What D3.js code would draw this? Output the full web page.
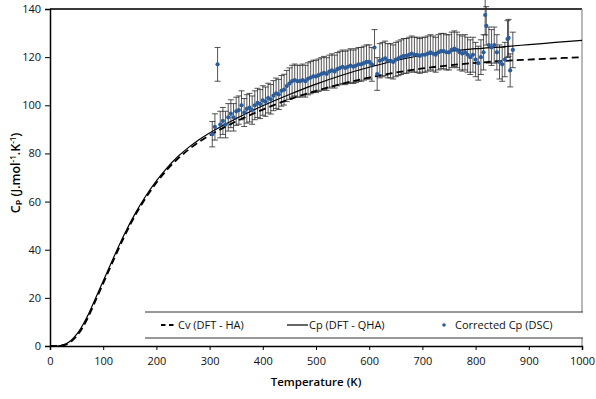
<!DOCTYPE html>
<html>
<head>
<meta charset="utf-8">
<script src="https://cdn.jsdelivr.net/npm/d3@7"></script>
<style>
  body { margin: 0; background: #fff; }
  svg { font-family: "Open Sans", "DejaVu Sans", sans-serif; }
</style>
</head>
<body>
<svg id="chart" width="596" height="399"></svg>
<script>
// model curves (K, J/mol/K)
const modelT  = [0, 15, 20, 30, 40, 50, 60, 70, 80, 90, 100, 120, 140, 160, 180, 200, 220, 240, 260, 280, 300, 350, 400, 450, 500, 550, 600, 650, 700, 750, 800, 850, 900, 950, 1000];
const cpQHA   = [0, 0, 0.2, 0.9, 2.4, 4.8, 8.1, 12.2, 17, 22, 27, 37, 46.5, 55, 62.3, 68.6, 74, 78.6, 82.4, 85.7, 88.5, 94.5, 99.8, 104.5, 108.8, 112.6, 115.8, 118.6, 120.8, 122.4, 123.5, 124.3, 125.2, 126.1, 127];
const cvHA    = [0, 0, 0.1, 0.6, 1.9, 4.1, 7.2, 11.2, 16, 21, 26, 36, 45.6, 54.2, 61.5, 67.8, 73.2, 77.7, 81.5, 84.7, 87.5, 93.3, 98.2, 102.5, 106, 109, 111.5, 113.6, 115.3, 116.6, 117.6, 118.4, 119, 119.5, 120];

// corrected DSC data
const dscT  = [305, 310, 315, 320, 325, 330, 335, 340, 345, 350, 355, 360, 365, 370, 375, 380, 385, 390, 395, 400,
               405, 410, 415, 420, 425, 430, 435, 440, 445, 450, 455, 460, 465, 470, 475, 480, 485, 490, 495, 500,
               505, 510, 515, 520, 525, 530, 535, 540, 545, 550, 555, 560, 565, 570, 575, 580, 585, 590, 595, 600,
               605, 610, 615, 620, 625, 630, 635, 640, 645, 650, 655, 660, 665, 670, 675, 680, 685, 690, 695, 700,
               705, 710, 715, 720, 725, 730, 735, 740, 745, 750, 755, 760, 765, 770, 775, 780, 785, 790, 795, 800,
               805, 810, 815, 818, 820, 825, 830, 835, 840, 845, 850, 855, 860, 862, 865, 870];
const dscCp = [88, 91, 117, 92, 93.5, 92, 95, 96.5, 95, 97.5, 98, 100, 97, 98.5, 99, 98, 100, 101, 100.5, 102,
               101.5, 103, 102.5, 104, 105, 104.5, 106, 106.5, 108, 109, 110, 110.5, 110, 110, 110.5, 110, 111, 111.5, 112, 112,
               112.5, 113, 113.5, 113, 114, 114.5, 114, 115, 115.5, 116, 115.5, 116, 116.5, 116, 116.5, 117, 117, 117.5, 118, 118,
               117, 124, 113, 118.5, 119, 119.5, 118.5, 118.5, 118, 119, 119.5, 120, 120.5, 120.5, 121, 121.5, 121, 121, 120.5, 121,
               121, 121.5, 122, 121.5, 121, 122, 122.5, 122.5, 122, 122, 123, 123.5, 123, 122, 121.5, 122, 121, 120, 121, 119,
               117.5, 120, 122, 137.5, 133, 125, 124, 125, 122, 118, 117, 119, 127.5, 128, 114.5, 123];
const dscErrPct = 0.06;

const xTicks = [0, 100, 200, 300, 400, 500, 600, 700, 800, 900, 1000];
const yTicks = [0, 20, 40, 60, 80, 100, 120, 140];

const legendItems = [
  { label: "Cv (DFT - HA)", kind: "dash" },
  { label: "Cp (DFT - QHA)", kind: "solid" },
  { label: "Corrected Cp (DSC)", kind: "dot" }
];

const margin = { top: 9, right: 14, bottom: 53, left: 50 };
const W = 596, H = 399;
const svg = d3.select("#chart");

const x = d3.scaleLinear().domain([0, 1000]).range([margin.left, W - margin.right]);
const y = d3.scaleLinear().domain([0, 140]).range([H - margin.bottom, margin.top]);

const dotColor = "#2b5c9c";

// frame top + right
svg.append("line")
  .attr("x1", x(0)).attr("x2", x(1000)).attr("y1", y(140)).attr("y2", y(140))
  .attr("stroke", "#3a3a3a").attr("stroke-width", 2);
svg.append("line")
  .attr("x1", x(1000)).attr("x2", x(1000)).attr("y1", y(140)).attr("y2", y(0))
  .attr("stroke", "#8a8a8a").attr("stroke-width", 1.2);

// error bars
const err = svg.append("g").attr("stroke", "#2a2a2a").attr("stroke-width", 0.8);
dscT.forEach((t, i) => {
  const v = dscCp[i], e = v * dscErrPct;
  const cx = x(t);
  err.append("line").attr("x1", cx).attr("x2", cx).attr("y1", y(v - e)).attr("y2", y(v + e));
  err.append("line").attr("x1", cx - 3).attr("x2", cx + 3).attr("y1", y(v - e)).attr("y2", y(v - e));
  err.append("line").attr("x1", cx - 3).attr("x2", cx + 3).attr("y1", y(v + e)).attr("y2", y(v + e));
});

// model curves
const lineFor = arr => d3.line()
  .x((d, i) => x(modelT[i]))
  .y((d, i) => y(arr[i]))
  .curve(d3.curveMonotoneX)(arr);

svg.append("path").attr("d", lineFor(cvHA))
  .attr("fill", "none").attr("stroke", "#000").attr("stroke-width", 1.8)
  .attr("stroke-dasharray", "7,4");
svg.append("path").attr("d", lineFor(cpQHA))
  .attr("fill", "none").attr("stroke", "#000").attr("stroke-width", 1.2);

// DSC points
svg.append("g").selectAll("circle")
  .data(dscT)
  .join("circle")
  .attr("cx", d => x(d))
  .attr("cy", (d, i) => y(dscCp[i]))
  .attr("r", 2.1)
  .attr("fill", dotColor);

// axes
const xAxis = svg.append("g")
  .attr("transform", `translate(0,${y(0)})`)
  .call(d3.axisBottom(x).tickValues(xTicks).tickSize(4).tickPadding(7).tickFormat(d3.format("d")));
const yAxis = svg.append("g")
  .attr("transform", `translate(${x(0)},0)`)
  .call(d3.axisLeft(y).tickValues(yTicks).tickSize(5).tickPadding(4).tickFormat(d3.format("d")));
[xAxis, yAxis].forEach(a => {
  a.select(".domain").attr("stroke", "#000").attr("stroke-width", 1.5);
  a.selectAll(".tick line").attr("stroke", "#000");
  a.selectAll("text").attr("font-size", 11).attr("fill", "#111")
    .attr("font-family", "'Open Sans', sans-serif");
});

// axis titles
svg.append("text")
  .attr("x", (x(0) + x(1000)) / 2).attr("y", 386)
  .attr("text-anchor", "middle").attr("font-size", 11.5).attr("font-weight", 600)
  .text("Temperature (K)");

const yl = svg.append("text")
  .attr("transform", `translate(20,173) rotate(-90)`)
  .attr("text-anchor", "middle").attr("font-size", 12.5).attr("font-weight", 600);
yl.append("tspan").text("C");
yl.append("tspan").attr("font-size", 9).attr("dy", 2).text("P");
yl.append("tspan").attr("dy", -2).text(" (J.mol");
yl.append("tspan").attr("font-size", 8).attr("dy", -4).text("-1");
yl.append("tspan").attr("dy", 4).text(".K");
yl.append("tspan").attr("font-size", 8).attr("dy", -4).text("-1");
yl.append("tspan").attr("dy", 4).text(")");

// legend
const lg = svg.append("g");
const lgTop = 312, lgBot = 338, lgX0 = 145, lgX1 = 583;
lg.append("rect").attr("x", lgX0).attr("y", lgTop).attr("width", lgX1 - lgX0).attr("height", lgBot - lgTop)
  .attr("fill", "#fff");
[lgTop, lgBot].forEach(yy => lg.append("line")
  .attr("x1", lgX0).attr("x2", lgX1).attr("y1", yy).attr("y2", yy)
  .attr("stroke", "#333").attr("stroke-width", 1));

const lgPos = [{ s: 161, t: 178 }, { s: 287, t: 309 }, { s: 444, t: 455 }];
const ly = (lgTop + lgBot) / 2;
legendItems.forEach((it, i) => {
  const p = lgPos[i];
  if (it.kind === "dash") {
    lg.append("line").attr("x1", p.s).attr("x2", p.s + 13).attr("y1", ly).attr("y2", ly)
      .attr("stroke", "#000").attr("stroke-width", 2).attr("stroke-dasharray", "4.5,3.5");
  } else if (it.kind === "solid") {
    lg.append("line").attr("x1", p.s).attr("x2", p.s + 21).attr("y1", ly).attr("y2", ly)
      .attr("stroke", "#000").attr("stroke-width", 1.2);
  } else {
    lg.append("circle").attr("cx", p.s).attr("cy", ly).attr("r", 1.8).attr("fill", dotColor);
  }
  lg.append("text").attr("x", p.t).attr("y", ly + 4)
    .attr("font-size", 11).attr("fill", "#111").text(it.label);
});
</script>
</body>
</html>
